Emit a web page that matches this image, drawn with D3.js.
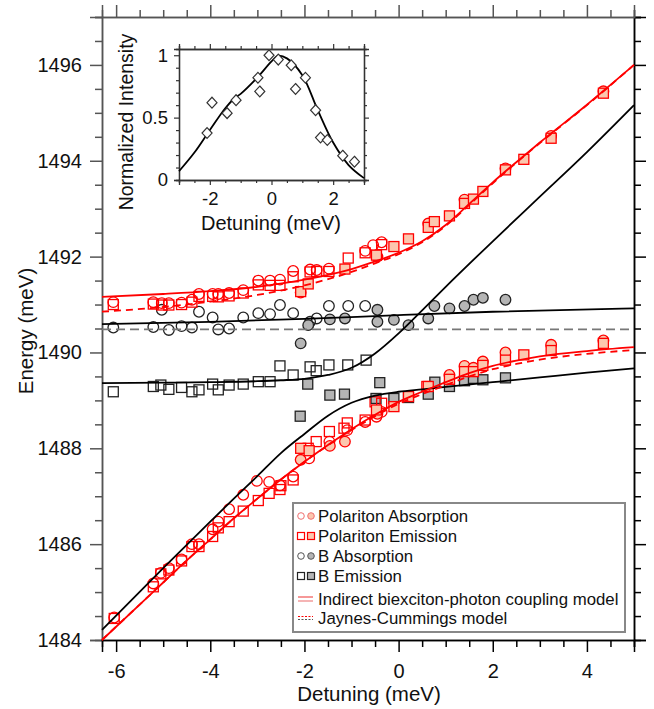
<!DOCTYPE html>
<html>
<head>
<meta charset="utf-8">
<script src="https://cdn.jsdelivr.net/npm/d3@7"></script>
<style>
  body { margin: 0; background: #fff; }
  svg { display: block; font-family: Arial, "Liberation Sans", sans-serif; }
</style>
</head>
<body>
<svg id="chart" width="654" height="709"></svg>
<script>
// ---------- tick values ----------
const xMajor = [-6, -4, -2, 0, 2, 4];
const yMajor = [1484, 1486, 1488, 1490, 1492, 1494, 1496];
const insetXMajor = [-2, 0, 2];
const insetYMajor = [0, 0.5, 1];

// ---------- measured points [detuning meV, energy meV] ----------
const polAbsOpen = [
  [-6.06,1491.05],[-5.21,1491.05],[-5.03,1491.03],[-4.88,1491.03],[-4.61,1491.04],[-4.39,1491.10],
  [-4.24,1491.22],[-3.95,1491.22],[-3.83,1491.22],[-3.60,1491.24],[-3.30,1491.30],[-2.98,1491.50],
  [-2.73,1491.50],[-2.52,1491.52],[-2.24,1491.70],[-1.88,1491.73],[-1.74,1491.72],[-1.48,1491.75],
  [-0.71,1492.12],[-0.54,1492.24],[-0.36,1492.30],
  [-6.04,1484.47],[-5.21,1485.18],[-5.05,1485.40],[-4.88,1485.50],[-4.61,1485.68],[-4.39,1486.00],
  [-4.24,1486.00],[-3.95,1486.31],[-3.83,1486.47],[-3.60,1486.73],[-3.30,1487.03],[-3.01,1487.32],
  [-2.75,1487.30],[-2.52,1487.23],[-2.24,1487.41],[-1.90,1487.79],[-1.47,1488.14],[-1.09,1488.38],
  [-0.71,1488.55],[-0.47,1488.66],[-0.36,1488.76]
];
const polAbsFilled = [
  [-2.08,1491.25],[-0.45,1492.00],[0.63,1492.69],[1.40,1493.19],[2.27,1493.84],[3.24,1494.52],[4.35,1495.45],
  [-2.08,1487.76],[-1.46,1488.05],[-1.14,1488.14],[-0.45,1488.72],[1.08,1489.53],[1.40,1489.72],
  [1.59,1489.68],[1.79,1489.81],[2.27,1490.00],[3.24,1490.16],[4.35,1490.25]
];
const polEmOpen = [
  [-6.06,1491.00],[-5.21,1491.01],[-5.03,1490.99],[-4.88,1490.99],[-4.61,1491.00],[-4.39,1491.05],
  [-4.24,1491.17],[-3.95,1491.17],[-3.83,1491.16],[-3.60,1491.18],[-3.30,1491.24],[-2.98,1491.41],
  [-2.73,1491.40],[-2.52,1491.40],[-2.24,1491.58],[-1.88,1491.68],[-1.74,1491.69],[-1.48,1491.69],
  [-1.07,1491.97],[-0.71,1492.08],[-0.36,1492.25],
  [-6.04,1484.45],[-5.21,1485.11],[-5.05,1485.38],[-4.88,1485.46],[-4.61,1485.65],[-4.39,1485.95],
  [-4.24,1485.95],[-3.95,1486.16],[-3.83,1486.34],[-3.60,1486.47],[-3.30,1486.69],[-2.98,1486.91],
  [-2.75,1487.06],[-2.52,1487.14],[-2.50,1487.22],[-2.24,1487.34],[-1.92,1488.00],[-1.75,1488.14],
  [-1.47,1488.35],[-1.16,1488.42],[-1.09,1488.53],[-0.71,1488.59],[-0.50,1488.97],[-0.36,1488.94],
  [0.60,1489.29]
];
const polEmFilled = [
  [-2.08,1491.27],[-1.92,1491.43],[-1.14,1491.74],[-0.47,1492.03],[-0.10,1492.21],[0.21,1492.37],
  [0.63,1492.61],[0.76,1492.73],[1.08,1492.85],[1.40,1493.11],[1.59,1493.20],[1.79,1493.36],
  [2.27,1493.81],[2.66,1494.03],[3.24,1494.47],[4.35,1495.41],
  [-2.08,1488.00],[-1.90,1487.95],[-0.47,1488.80],[-0.10,1488.87],[0.21,1489.08],[0.63,1489.29],
  [1.08,1489.44],[1.40,1489.60],[1.59,1489.60],[1.79,1489.73],[2.27,1489.84],[2.66,1489.95],
  [3.24,1490.04],[4.35,1490.19]
];
const bAbsOpen = [
  [-6.06,1490.52],[-5.21,1490.53],[-5.03,1490.89],[-4.88,1490.47],[-4.61,1490.55],[-4.39,1490.52],
  [-4.24,1490.85],[-3.95,1490.73],[-3.83,1490.48],[-3.60,1490.50],[-3.30,1490.73],[-2.98,1490.82],
  [-2.73,1490.80],[-2.52,1490.99],[-2.24,1490.82],[-1.88,1490.64],[-1.74,1490.71],[-1.48,1490.97],
  [-1.07,1490.97],[-0.71,1490.97]
];
const bAbsFilled = [
  [-2.08,1490.19],[-1.92,1490.57],[-1.46,1490.69],[-1.14,1490.71],[-0.45,1490.89],[-0.45,1490.64],
  [-0.10,1490.68],[0.21,1490.57],[0.63,1490.71],[0.76,1490.97],[1.08,1490.92],[1.40,1490.97],
  [1.59,1491.10],[1.79,1491.14],[2.27,1491.10]
];
const bEmOpen = [
  [-6.06,1489.18],[-5.21,1489.29],[-5.05,1489.32],[-4.88,1489.23],[-4.61,1489.27],[-4.39,1489.18],
  [-4.24,1489.22],[-3.95,1489.34],[-3.83,1489.22],[-3.60,1489.32],[-3.30,1489.34],[-2.98,1489.39],
  [-2.73,1489.39],[-2.52,1489.72],[-2.24,1489.53],[-1.88,1489.70],[-1.75,1489.62],[-1.48,1489.74],
  [-1.08,1489.74],[-0.69,1489.84]
];
const bEmFilled = [
  [-2.09,1488.67],[-1.93,1489.34],[-1.46,1489.11],[-1.15,1489.13],[-0.48,1489.04],[-0.40,1489.37],
  [-0.10,1489.04],[0.21,1489.06],[0.63,1489.13],[0.77,1489.38],[1.08,1489.29],[1.40,1489.41],
  [1.59,1489.46],[1.79,1489.43],[2.27,1489.47]
];

// ---------- model curves ----------
const coupledUpper = [
  [-6.3,1491.16],[-5,1491.22],[-4,1491.28],[-3,1491.37],[-2,1491.52],[-1,1491.74],[-0.5,1491.90],
  [0,1492.08],[0.5,1492.32],[1,1492.66],[1.5,1493.10],[2,1493.55],[2.5,1493.97],[3,1494.38],
  [4,1495.17],[5,1496.00]
];
const coupledLower = [
  [-6.3,1484.00],[-5.5,1484.74],[-5,1485.20],[-4.5,1485.66],[-4,1486.10],[-3.5,1486.54],[-3,1486.95],
  [-2.5,1487.35],[-2,1487.72],[-1.5,1488.07],[-1,1488.40],[-0.5,1488.70],[0,1488.97],[0.5,1489.18],
  [1,1489.38],[1.5,1489.57],[2,1489.72],[2.5,1489.83],[3,1489.92],[4,1490.03],[5,1490.11]
];
const jcUpper = [
  [-6.3,1490.85],[-5,1490.95],[-4,1491.06],[-3,1491.20],[-2,1491.40],[-1,1491.68],[-0.5,1491.86],
  [0,1492.05],[0.5,1492.30],[1,1492.64],[1.5,1493.08],[2,1493.53],[2.5,1493.96],[3,1494.37],
  [4,1495.16],[5,1496.00]
];
const jcLower = [
  [-6.3,1484.00],[-5.5,1484.74],[-5,1485.20],[-4.5,1485.66],[-4,1486.10],[-3.5,1486.54],[-3,1486.95],
  [-2.5,1487.35],[-2,1487.72],[-1.5,1488.06],[-1,1488.38],[-0.5,1488.67],[0,1488.93],[0.5,1489.13],
  [1,1489.32],[1.5,1489.50],[2,1489.65],[2.5,1489.76],[3,1489.85],[4,1489.97],[5,1490.05]
];
const bBranchUpper = [
  [-6.3,1489.36],[-5,1489.37],[-4,1489.38],[-3,1489.40],[-2.5,1489.42],[-2,1489.45],[-1.5,1489.53],
  [-1,1489.68],[-0.5,1489.98],[0,1490.40],[0.5,1490.88],[1,1491.37],[2,1492.32],[3,1493.25],
  [4,1494.18],[5,1495.16]
];
const bBranchLower = [
  [-6.3,1484.21],[-5,1485.50],[-4,1486.47],[-3.5,1486.95],[-3,1487.42],[-2.5,1487.90],[-2,1488.30],
  [-1.5,1488.68],[-1,1488.95],[-0.5,1489.10],[0,1489.18],[0.5,1489.23],[1,1489.28],[2,1489.38],
  [3,1489.48],[4,1489.58],[5,1489.67]
];
const bAbsLine = [
  [-6.3,1490.59],[-4,1490.64],[-2,1490.70],[0,1490.78],[2,1490.85],[5,1490.92]
];
const excitonLevel = [[-6.3,1490.48],[5,1490.48]];

// ---------- inset: normalized intensity vs detuning ----------
const insetPoints = [
  [-2.09,0.376],[-1.93,0.62],[-1.44,0.536],[-1.15,0.64],[-0.44,0.82],[-0.38,0.71],[-0.08,1.0],
  [0.22,0.965],[0.64,0.92],[0.78,0.73],[1.10,0.82],[1.43,0.56],[1.59,0.34],[1.81,0.32],
  [2.31,0.195],[2.69,0.147]
];
const insetCurve = [
  [-3,0.07],[-2.5,0.22],[-2,0.40],[-1.5,0.575],[-1.2,0.655],[-1,0.69],[-0.5,0.81],[0,0.95],
  [0.2,0.995],[0.5,0.975],[1,0.84],[1.5,0.56],[2,0.30],[2.5,0.12],[3,0.015]
];

const RED = "#ff0000";
const PEACH = "#fcc7ae";
const GRAY = "#b5b5b5";
const DARK = "#222";

const svg = d3.select("#chart");

// ---------- main scales ----------
const x = d3.scaleLinear().domain([-6.3, 5]).range([102, 634]);
const y = d3.scaleLinear().domain([1484, 1497]).range([640, 17]);

const xMinor = d3.range(-6, 5.001, 0.5).filter(v => !xMajor.includes(v));
const yMinor = d3.range(1484, 1497.001, 0.5).filter(v => !yMajor.includes(v));

function styleAxis(g, color) {
  g.select(".domain").attr("stroke", color).attr("stroke-width", 1.5);
  g.selectAll(".tick line").attr("stroke", color).attr("stroke-width", 1.5);
  g.selectAll(".tick text").attr("fill", "#111").style("font-size", "20px");
}

// left
svg.append("g").attr("transform", "translate(102,0)")
  .call(d3.axisLeft(y).tickValues(yMajor).tickSize(12).tickPadding(8).tickFormat(d => String(d)))
  .call(g => styleAxis(g, "#555"));
svg.append("g").attr("transform", "translate(102,0)")
  .call(d3.axisLeft(y).tickValues(yMinor).tickSize(7).tickFormat(""))
  .call(g => styleAxis(g, "#555"));
// right
svg.append("g").attr("transform", "translate(634,0)")
  .call(d3.axisRight(y).tickValues(yMajor).tickSize(12).tickFormat(""))
  .call(g => styleAxis(g, "#000"));
svg.append("g").attr("transform", "translate(634,0)")
  .call(d3.axisRight(y).tickValues(yMinor).tickSize(7).tickFormat(""))
  .call(g => styleAxis(g, "#000"));
// bottom
svg.append("g").attr("transform", "translate(0,640)")
  .call(d3.axisBottom(x).tickValues(xMajor).tickSize(12).tickPadding(12).tickFormat(d => String(d)))
  .call(g => styleAxis(g, "#000"));
svg.append("g").attr("transform", "translate(0,640)")
  .call(d3.axisBottom(x).tickValues(xMinor).tickSize(7).tickFormat(""))
  .call(g => styleAxis(g, "#000"));
// top
svg.append("g").attr("transform", "translate(0,17)")
  .call(d3.axisTop(x).tickValues(xMajor).tickSize(12).tickFormat(""))
  .call(g => styleAxis(g, "#555"));
svg.append("g").attr("transform", "translate(0,17)")
  .call(d3.axisTop(x).tickValues(xMinor).tickSize(7).tickFormat(""))
  .call(g => styleAxis(g, "#555"));

// axis titles
svg.append("text").attr("x", 369).attr("y", 701).attr("text-anchor", "middle")
  .style("font-size", "20.5px").attr("fill", "#111").text("Detuning (meV)");
svg.append("text").attr("transform", "translate(33,331) rotate(-90)").attr("text-anchor", "middle")
  .style("font-size", "20.5px").attr("fill", "#111").text("Energy (meV)");

// ---------- markers ----------
const plot = svg.append("g");
function circles(data, fill, stroke) {
  plot.append("g").selectAll("circle").data(data).join("circle")
    .attr("cx", d => x(d[0])).attr("cy", d => y(d[1])).attr("r", 5.3)
    .attr("fill", fill).attr("stroke", stroke).attr("stroke-width", 1.3);
}
function squares(data, fill, stroke) {
  const s = 10;
  plot.append("g").selectAll("rect").data(data).join("rect")
    .attr("x", d => x(d[0]) - s / 2).attr("y", d => y(d[1]) - s / 2)
    .attr("width", s).attr("height", s)
    .attr("fill", fill).attr("stroke", stroke).attr("stroke-width", 1.3);
}
circles(bAbsOpen, "none", DARK);
circles(bAbsFilled, GRAY, DARK);
squares(bEmOpen, "none", DARK);
squares(bEmFilled, GRAY, DARK);
circles(polAbsOpen, "none", RED);
squares(polEmOpen, "none", RED);
circles(polAbsFilled, PEACH, RED);
squares(polEmFilled, PEACH, RED);

// ---------- model curves ----------
const line = d3.line().x(d => x(d[0])).y(d => y(d[1])).curve(d3.curveMonotoneX);
function curve(data, color, dash, width) {
  plot.append("path").datum(data).attr("d", line)
    .attr("fill", "none").attr("stroke", color).attr("stroke-width", width || 1.8)
    .attr("stroke-dasharray", dash || null);
}
curve(excitonLevel, "#777", "9,5", 1.8);
curve(bAbsLine, "#000");
curve(bBranchUpper, "#000");
curve(bBranchLower, "#000");
curve(jcUpper, RED, "7,5");
curve(jcLower, RED, "7,5");
curve(coupledUpper, RED);
curve(coupledLower, RED);

// ---------- legend ----------
const legendRows = [
  { label: "Polariton Absorption", kind: "circle", stroke: "#f07070", fill: PEACH, y: 516 },
  { label: "Polariton Emission", kind: "square", stroke: RED, fill: PEACH, y: 536 },
  { label: "B Absorption", kind: "circle", stroke: "#555", fill: GRAY, y: 556 },
  { label: "B Emission", kind: "square", stroke: "#222", fill: GRAY, y: 576 },
  { label: "Indirect biexciton-photon coupling model", kind: "solid", y: 599 },
  { label: "Jaynes-Cummings model", kind: "dotted", y: 618 }
];
const lg = svg.append("g");
lg.append("rect").attr("x", 293).attr("y", 503).attr("width", 332).attr("height", 129)
  .attr("fill", "#fff").attr("stroke", "#888").attr("stroke-width", 2);
legendRows.forEach(r => {
  if (r.kind === "circle") {
    lg.append("circle").attr("cx", 301).attr("cy", r.y).attr("r", 3.3)
      .attr("fill", "#fff").attr("stroke", r.stroke).attr("stroke-width", 1);
    lg.append("circle").attr("cx", 311).attr("cy", r.y).attr("r", 3.3)
      .attr("fill", r.fill).attr("stroke", r.stroke).attr("stroke-width", 1);
  } else if (r.kind === "square") {
    lg.append("rect").attr("x", 297.5).attr("y", r.y - 3.5).attr("width", 7).attr("height", 7)
      .attr("fill", "#fff").attr("stroke", r.stroke).attr("stroke-width", 1.2);
    lg.append("rect").attr("x", 307.5).attr("y", r.y - 3.5).attr("width", 7).attr("height", 7)
      .attr("fill", r.fill).attr("stroke", r.stroke).attr("stroke-width", 1.2);
  } else if (r.kind === "solid") {
    lg.append("line").attr("x1", 298).attr("x2", 313).attr("y1", r.y - 2).attr("y2", r.y - 2)
      .attr("stroke", "#f26060").attr("stroke-width", 1.3);
    lg.append("line").attr("x1", 298).attr("x2", 313).attr("y1", r.y + 2).attr("y2", r.y + 2)
      .attr("stroke", "#f08c8c").attr("stroke-width", 1.3);
  } else {
    lg.append("line").attr("x1", 298).attr("x2", 313).attr("y1", r.y - 1.5).attr("y2", r.y - 1.5)
      .attr("stroke", RED).attr("stroke-width", 1.1).attr("stroke-dasharray", "2,1.5");
    lg.append("line").attr("x1", 298).attr("x2", 313).attr("y1", r.y + 1.5).attr("y2", r.y + 1.5)
      .attr("stroke", "#555").attr("stroke-width", 1.1).attr("stroke-dasharray", "2,1.5");
  }
  lg.append("text").attr("x", 318).attr("y", r.y + 6).style("font-size", "16.8px")
    .attr("fill", "#111").text(r.label);
});

// ---------- inset ----------
const xi = d3.scaleLinear().domain([-3, 3]).range([179, 364]);
const yi = d3.scaleLinear().domain([0, 1.05]).range([180, 49]);
const inset = svg.append("g");
inset.append("rect").attr("x", 179).attr("y", 49).attr("width", 185).attr("height", 131)
  .attr("fill", "#fff");

const ixMinor = d3.range(-3, 3.001, 0.5).filter(v => !insetXMajor.includes(v));
const iyMinor = d3.range(0, 1.0501, 0.1).map(v => +v.toFixed(2)).filter(v => !insetYMajor.includes(v));

function styleInset(g) {
  g.select(".domain").attr("stroke", "#333").attr("stroke-width", 1.3);
  g.selectAll(".tick line").attr("stroke", "#333").attr("stroke-width", 1.2);
  g.selectAll(".tick text").attr("fill", "#111").style("font-size", "18.5px");
}
inset.append("g").attr("transform", "translate(179,0)")
  .call(d3.axisLeft(yi).tickValues(insetYMajor).tickSize(5).tickPadding(6).tickFormat(d => String(d)))
  .call(styleInset);
inset.append("g").attr("transform", "translate(179,0)")
  .call(d3.axisLeft(yi).tickValues(iyMinor).tickSize(3).tickFormat("")).call(styleInset);
inset.append("g").attr("transform", "translate(364,0)")
  .call(d3.axisRight(yi).tickValues(insetYMajor).tickSize(5).tickFormat("")).call(styleInset);
inset.append("g").attr("transform", "translate(364,0)")
  .call(d3.axisRight(yi).tickValues(iyMinor).tickSize(3).tickFormat("")).call(styleInset);
inset.append("g").attr("transform", "translate(0,180)")
  .call(d3.axisBottom(xi).tickValues(insetXMajor).tickSize(5).tickPadding(7).tickFormat(d => String(d)))
  .call(styleInset);
inset.append("g").attr("transform", "translate(0,180)")
  .call(d3.axisBottom(xi).tickValues(ixMinor).tickSize(3).tickFormat("")).call(styleInset);
inset.append("g").attr("transform", "translate(0,49)")
  .call(d3.axisTop(xi).tickValues(insetXMajor).tickSize(5).tickFormat("")).call(styleInset);
inset.append("g").attr("transform", "translate(0,49)")
  .call(d3.axisTop(xi).tickValues(ixMinor).tickSize(3).tickFormat("")).call(styleInset);

inset.append("path").datum(insetCurve)
  .attr("d", d3.line().x(d => xi(d[0])).y(d => yi(d[1])).curve(d3.curveCatmullRom))
  .attr("fill", "none").attr("stroke", "#000").attr("stroke-width", 1.8);

inset.append("g").selectAll("path").data(insetPoints).join("path")
  .attr("transform", d => `translate(${xi(d[0])},${yi(d[1])})`)
  .attr("d", "M0,-5.4L5,0L0,5.4L-5,0Z")
  .attr("fill", "#fff").attr("stroke", "#333").attr("stroke-width", 1.2);

inset.append("text").attr("x", 271).attr("y", 230).attr("text-anchor", "middle")
  .style("font-size", "20px").attr("fill", "#111").text("Detuning (meV)");
inset.append("text").attr("transform", "translate(133,122) rotate(-90)").attr("text-anchor", "middle")
  .style("font-size", "19.5px").attr("fill", "#111").text("Normalized Intensity");
</script>
</body>
</html>
